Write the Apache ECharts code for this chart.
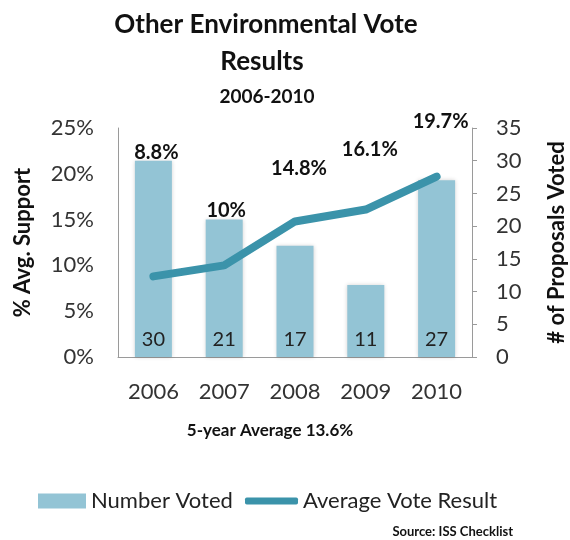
<!DOCTYPE html>
<html><head><meta charset="utf-8">
<script src="https://cdn.jsdelivr.net/npm/echarts@6/dist/echarts.min.js"></script>
<style>html,body{margin:0;padding:0;background:#fff}#c{width:570px;height:540px}</style>
</head><body><div id="c"></div>
<script>
const years = ['2006','2007','2008','2009','2010'];
const numberVoted = [30, 21, 17, 11, 27];
const avgVoteResult = [8.8, 10, 14.8, 16.1, 19.7];
const leftTicks = [0, 5, 10, 15, 20, 25];
const rightTicks = [0, 5, 10, 15, 20, 25, 30, 35];

const FONT = 'Lato';
const labelOffsets = [[3,-124],[2,-55],[4,-53],[4,-60],[4,-55]];
const chart = echarts.init(document.getElementById('c'), null, {renderer:'canvas'});
chart.setOption({
  animation: false,
  textStyle: {fontFamily: FONT},
  grid: {left: 118, right: 98, top: 128, bottom: 183, containLabel: false, outerBoundsMode: 'none'},
  xAxis: {
    type: 'category', data: years,
    axisLine: {lineStyle: {color: '#9a9a9a'}},
    axisTick: {show: false},
    axisLabel: {fontSize: 22, color: '#333', margin: 24, fontFamily: FONT}
  },
  yAxis: [{
    type: 'value', min: leftTicks[0], max: leftTicks[leftTicks.length-1], interval: 5,
    name: '% Avg. Support', nameLocation: 'middle', nameGap: 84,
    nameTextStyle: {fontSize: 22, fontWeight: 'bold', color: '#111', fontFamily: FONT},
    axisLine: {show: true, lineStyle: {color: '#9a9a9a'}},
    axisTick: {show: false},
    splitLine: {show: false},
    axisLabel: {formatter: '{value}%', fontSize: 22, color: '#333', margin: 24, fontFamily: FONT}
  }, {
    type: 'value', min: rightTicks[0], max: rightTicks[rightTicks.length-1], interval: 5,
    name: '# of Proposals Voted', nameLocation: 'middle', nameGap: 74, nameRotate: 90,
    nameTextStyle: {fontSize: 22, fontWeight: 'bold', color: '#111', fontFamily: FONT},
    axisLine: {show: true, lineStyle: {color: '#9a9a9a'}},
    axisTick: {show: true, length: 5, lineStyle: {color: '#9a9a9a'}},
    splitLine: {show: false},
    axisLabel: {fontSize: 22, color: '#333', margin: 24, fontFamily: FONT}
  }],
  legend: [{
    left: 38, top: 490, padding: 0, icon: 'rect', itemWidth: 48, itemHeight: 15,
    data: ['Number Voted'],
    textStyle: {fontSize: 22, color: '#222', fontFamily: FONT}
  }, {
    left: 245, top: 490, padding: 0, icon: 'roundRect', itemWidth: 53, itemHeight: 7,
    data: ['Average Vote Result'],
    textStyle: {fontSize: 22, color: '#222', fontFamily: FONT}
  }],
  graphic: [
    {type: 'text', x: 266, y: 25, style: {text: 'Other Environmental Vote', font: 'bold 26px Lato', fill: '#111', textAlign: 'center', textVerticalAlign: 'middle'}},
    {type: 'text', x: 262, y: 62, style: {text: 'Results', font: 'bold 26px Lato', fill: '#111', textAlign: 'center', textVerticalAlign: 'middle'}},
    {type: 'text', x: 267, y: 97, style: {text: '2006-2010', font: 'bold 19px Lato', fill: '#111', textAlign: 'center', textVerticalAlign: 'middle'}},
    {type: 'text', x: 270, y: 431, style: {text: '5-year Average 13.6%', font: 'bold 17px Lato', fill: '#111', textAlign: 'center', textVerticalAlign: 'middle'}},
    {type: 'text', x: 513, y: 532, style: {text: 'Source: ISS Checklist', font: 'bold 13px Lato', fill: '#111', textAlign: 'right', textVerticalAlign: 'middle'}}
  ],
  series: [{
    name: 'Number Voted', type: 'bar', yAxisIndex: 1, data: numberVoted,
    barWidth: 37,
    itemStyle: {color: '#93c4d5', shadowBlur: 4, shadowColor: 'rgba(0,0,0,0.18)'},
    label: {show: true, position: 'insideBottom', distance: 7, fontSize: 20, color: '#222', fontFamily: FONT}
  }, {
    name: 'Average Vote Result', type: 'line', yAxisIndex: 0,
    data: avgVoteResult.map((v, i) => ({value: v, label: {offset: labelOffsets[i]}})),
    symbol: 'circle', symbolSize: 1,
    itemStyle: {color: '#3b93aa'},
    lineStyle: {width: 8, color: '#3b93aa', cap: 'round', join: 'round'},
    label: {show: true, position: 'inside', formatter: '{c}%', fontSize: 20, fontWeight: 'bold', color: '#111', fontFamily: FONT},
    z: 5
  }]
});
</script></body></html>
